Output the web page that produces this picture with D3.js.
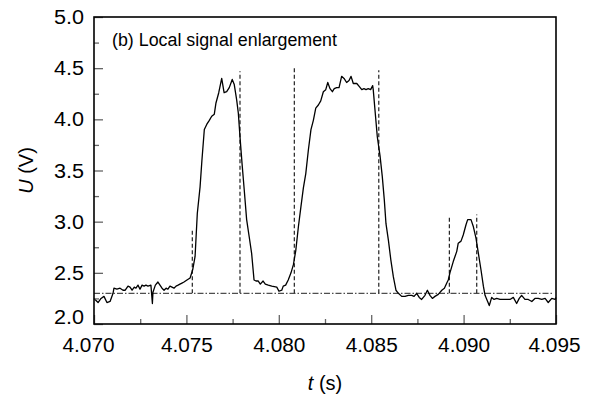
<!DOCTYPE html>
<html><head><meta charset="utf-8">
<script src="https://cdn.jsdelivr.net/npm/d3@7"></script>
<style>body{margin:0;background:#fff}svg{display:block}text{font-family:"Liberation Sans",Arial,sans-serif;fill:#000}</style>
</head><body><svg id="c" width="598" height="397"></svg>
<script>
// ---- data ----
const time = [4.07000,4.07022,4.07038,4.07054,4.07070,4.07087,4.07103,4.07108,4.07124,4.07141,4.07157,4.07169,4.07184,4.07195,4.07206,4.07218,4.07227,4.07238,4.07249,4.07260,4.07271,4.07281,4.07292,4.07308,4.07316,4.07319,4.07332,4.07346,4.07357,4.07368,4.07379,4.07390,4.07400,4.07411,4.07422,4.07433,4.07444,4.07455,4.07465,4.07476,4.07487,4.07503,4.07520,4.07534,4.07547,4.07559,4.07574,4.07584,4.07597,4.07610,4.07624,4.07637,4.07651,4.07660,4.07675,4.07691,4.07704,4.07718,4.07732,4.07748,4.07759,4.07772,4.07781,4.07790,4.07801,4.07813,4.07826,4.07840,4.07853,4.07866,4.07877,4.07889,4.07900,4.07915,4.07927,4.07943,4.07962,4.07989,4.08001,4.08016,4.08024,4.08037,4.08051,4.08066,4.08079,4.08092,4.08106,4.08120,4.08133,4.08146,4.08160,4.08174,4.08187,4.08200,4.08214,4.08227,4.08241,4.08254,4.08265,4.08277,4.08290,4.08300,4.08313,4.08326,4.08340,4.08353,4.08367,4.08380,4.08391,4.08403,4.08422,4.08436,4.08449,4.08461,4.08472,4.08484,4.08497,4.08508,4.08511,4.08522,4.08533,4.08548,4.08560,4.08571,4.08580,4.08593,4.08606,4.08620,4.08634,4.08647,4.08665,4.08683,4.08701,4.08719,4.08732,4.08746,4.08760,4.08773,4.08791,4.08804,4.08818,4.08831,4.08845,4.08863,4.08882,4.08896,4.08909,4.08917,4.08926,4.08944,4.08963,4.08971,4.08986,4.08998,4.09013,4.09022,4.09040,4.09053,4.09067,4.09080,4.09094,4.09107,4.09116,4.09130,4.09139,4.09152,4.09165,4.09179,4.09197,4.09215,4.09233,4.09251,4.09269,4.09287,4.09301,4.09314,4.09332,4.09350,4.09369,4.09386,4.09404,4.09423,4.09441,4.09458,4.09477,4.09495,4.09500];
const voltage = [2.25,2.21,2.25,2.27,2.21,2.22,2.30,2.35,2.34,2.35,2.33,2.33,2.37,2.36,2.33,2.36,2.35,2.38,2.34,2.38,2.37,2.38,2.37,2.38,2.20,2.31,2.38,2.41,2.38,2.35,2.33,2.35,2.34,2.37,2.36,2.35,2.37,2.38,2.39,2.40,2.41,2.43,2.45,2.53,2.66,3.08,3.34,3.60,3.90,3.95,3.99,4.03,4.05,4.16,4.26,4.40,4.26,4.27,4.31,4.39,4.34,4.19,4.06,3.83,3.57,3.31,3.02,2.85,2.69,2.43,2.42,2.42,2.39,2.42,2.39,2.38,2.37,2.36,2.32,2.33,2.37,2.38,2.43,2.50,2.58,2.72,2.95,3.15,3.33,3.47,3.70,3.90,3.99,4.11,4.14,4.18,4.27,4.29,4.36,4.30,4.27,4.30,4.31,4.31,4.42,4.40,4.36,4.38,4.42,4.35,4.35,4.32,4.29,4.30,4.29,4.30,4.29,4.33,4.29,4.06,3.83,3.64,3.44,3.21,2.98,2.82,2.63,2.46,2.33,2.30,2.27,2.27,2.28,2.28,2.27,2.30,2.26,2.24,2.28,2.33,2.28,2.25,2.27,2.29,2.33,2.35,2.40,2.43,2.50,2.61,2.71,2.79,2.81,2.87,2.97,3.02,3.02,2.95,2.84,2.69,2.53,2.37,2.28,2.22,2.18,2.26,2.24,2.25,2.24,2.24,2.24,2.24,2.26,2.20,2.25,2.28,2.24,2.24,2.22,2.25,2.25,2.24,2.25,2.21,2.25,2.24,2.26];
const markerT = [4.07532, 4.07790, 4.08084, 4.08541, 4.08923, 4.09071];
const markerTop = [2.92, 4.47, 4.50, 4.48, 3.06, 3.07];
const thresholdU = 2.3;
const thresholdEnd = 4.09482;
const xMajor = [4.070, 4.075, 4.080, 4.085, 4.090, 4.095];
const xMinor = [4.0725, 4.0775, 4.0825, 4.0875, 4.0925];
const yMajor = [2.0, 2.5, 3.0, 3.5, 4.0, 4.5, 5.0];
const yMinor = [2.25, 2.75, 3.25, 3.75, 4.25, 4.75];
const xDomain = [4.070, 4.095], yDomain = [2.0, 5.0];
const annotation = "(b) Local signal enlargement";

// ---- layout ----
const L = 94, R = 556, T = 17, B = 324;
const svg = d3.select("#c");
const x = d3.scaleLinear().domain(xDomain).range([L, R]);
const y = d3.scaleLinear().domain(yDomain).range([B, T]);

// threshold dash-dot
svg.append("line").attr("x1", x(xDomain[0])).attr("x2", x(thresholdEnd))
  .attr("y1", y(thresholdU)).attr("y2", y(thresholdU))
  .attr("stroke", "#222").attr("stroke-width", 1).attr("stroke-dasharray", "6,2,1.5,2");

// markers
svg.append("g").selectAll("line").data(markerT).join("line")
  .attr("x1", d => x(d)).attr("x2", d => x(d))
  .attr("y1", y(thresholdU)).attr("y2", (d, i) => y(markerTop[i]))
  .attr("stroke", "#222").attr("stroke-width", 1.2).attr("stroke-dasharray", "4,2.5");

// signal
const pts = time.map((t, i) => [t, voltage[i]]);
svg.append("path").datum(pts)
  .attr("d", d3.line().x(d => x(d[0])).y(d => y(d[1])))
  .attr("fill", "none").attr("stroke", "#000").attr("stroke-width", 1.3).attr("stroke-linejoin", "round");

// axes
const gx = svg.append("g").attr("transform", `translate(0,${B})`);
gx.call(d3.axisBottom(x).tickValues(xMajor).tickSize(-9).tickFormat(d3.format(".3f")));
const gxm = svg.append("g").attr("transform", `translate(0,${B})`);
gxm.call(d3.axisBottom(x).tickValues(xMinor).tickSize(-5).tickFormat(""));
const gy = svg.append("g").attr("transform", `translate(${L},0)`);
gy.call(d3.axisLeft(y).tickValues(yMajor).tickSize(-9).tickFormat(d3.format(".1f")));
const gym = svg.append("g").attr("transform", `translate(${L},0)`);
gym.call(d3.axisLeft(y).tickValues(yMinor).tickSize(-5).tickFormat(""));
[gx, gxm, gy, gym].forEach(g => {
  g.select(".domain").remove();
  g.selectAll(".tick line").attr("stroke", "#666").attr("stroke-width", 1.3);
});
gx.selectAll(".tick text").attr("y", 28).attr("dy", null)
  .attr("font-size", 20).attr("textLength", 52).attr("lengthAdjust", "spacingAndGlyphs")
  .attr("x", (d, i) => i === 0 ? -6 : (i === xMajor.length - 1 ? -2 : 0));
gy.selectAll(".tick text").attr("x", -10).attr("dy", null)
  .attr("y", (d, i) => i === 0 ? -1 : 6.5)
  .attr("font-size", 20).attr("textLength", 30).attr("lengthAdjust", "spacingAndGlyphs");

// frame
svg.append("rect").attr("x", L).attr("y", T).attr("width", R - L).attr("height", B - T)
  .attr("fill", "none").attr("stroke", "#000").attr("stroke-width", 1.6);

// titles
const xt = svg.append("text").attr("x", (L + R) / 2).attr("y", 390).attr("text-anchor", "middle").attr("font-size", 20);
xt.append("tspan").attr("font-style", "italic").text("t");
xt.append("tspan").text(" (s)");
const yt = svg.append("text").attr("transform", `translate(33,${(T + B) / 2}) rotate(-90)`).attr("text-anchor", "middle").attr("font-size", 20);
yt.append("tspan").attr("font-style", "italic").text("U");
yt.append("tspan").text(" (V)");

svg.append("text").attr("x", 112).attr("y", 46).attr("font-size", 18)
  .attr("textLength", 225).attr("lengthAdjust", "spacingAndGlyphs").text(annotation);
</script></body></html>
